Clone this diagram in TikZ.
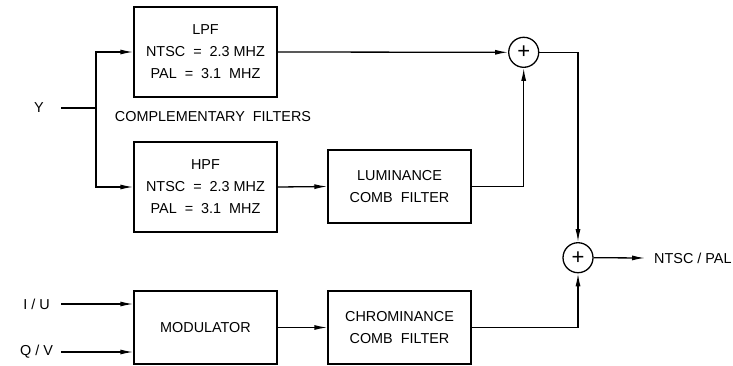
\documentclass[tikz,border=0pt]{standalone}
\usepackage{fontspec}
\setmainfont{Liberation Sans}
\usetikzlibrary{arrows.meta}
\begin{document}
\begin{tikzpicture}[x=1pt,y=-1pt,
  every node/.style={font=\fontsize{14.4}{22}\selectfont},
  blk/.style={draw,line width=1.3pt,minimum width=143pt,align=center,inner sep=0pt},
  sumc/.style={draw,circle,line width=1.3pt,minimum size=30pt,inner sep=0pt,font=\fontsize{22}{22}\selectfont},
  wire/.style={line width=1.3pt},
  arr/.style={line width=1.3pt,-{Latex[length=13pt,width=5pt]}},
  lbl/.style={inner sep=0pt}]
\useasboundingbox (0,0) rectangle (733,365);
\node[blk,minimum height=90pt] (lpf) at (205.5,52) {LPF\\NTSC\ \ =\ \ 2.3 MHZ\\PAL\ \ =\ \ 3.1\ \ MHZ};
\node[blk,minimum height=90pt] (hpf) at (205.5,187) {HPF\\NTSC\ \ =\ \ 2.3 MHZ\\PAL\ \ =\ \ 3.1\ \ MHZ};
\node[blk,minimum height=73pt] (lum) at (399.5,186.5) {LUMINANCE\\COMB\ \ FILTER};
\node[blk,minimum height=73pt] (mod) at (205.5,327.5) {MODULATOR};
\node[blk,minimum height=73pt] (chr) at (399.5,327.5) {CHROMINANCE\\COMB\ \ FILTER};
\node[sumc] (s1) at (523.7,52.3) {+};
\node[sumc] (s2) at (578,257.7) {+};
\node[lbl] (y) at (39,108) {Y};
\node[lbl] (cf) at (213,117) {COMPLEMENTARY\ \ FILTERS};
\node[lbl] (iu) at (36.5,304) {I / U};
\node[lbl] (qv) at (36.5,352) {Q / V};
\node[lbl,anchor=west] (out) at (654,258) {NTSC / PAL};
\coordinate (ys) at (61,108);
\coordinate (br) at (96,108);
\coordinate (iuS) at (61,304);
\coordinate (qvS) at (61,352);
\coordinate (oe) at (645,258);
\draw[wire] (ys) -- (br);
\draw[arr] (br) |- (lpf.west);
\draw[arr] (br) |- (hpf.west);
\draw[arr] (lpf.east) -- (s1.west);
\draw[arr] (hpf.east) -- (lum.west);
\draw[arr] (lum.east) -| (s1.south);
\draw[arr] (s1.east) -| (s2.north);
\draw[arr] (iuS) -- (iuS -| mod.west);
\draw[arr] (qvS) -- (qvS -| mod.west);
\draw[arr] (mod.east) -- (chr.west);
\draw[arr] (chr.east) -| (s2.south);
\draw[arr] (s2.east) -- (oe);
\end{tikzpicture}
\end{document}
